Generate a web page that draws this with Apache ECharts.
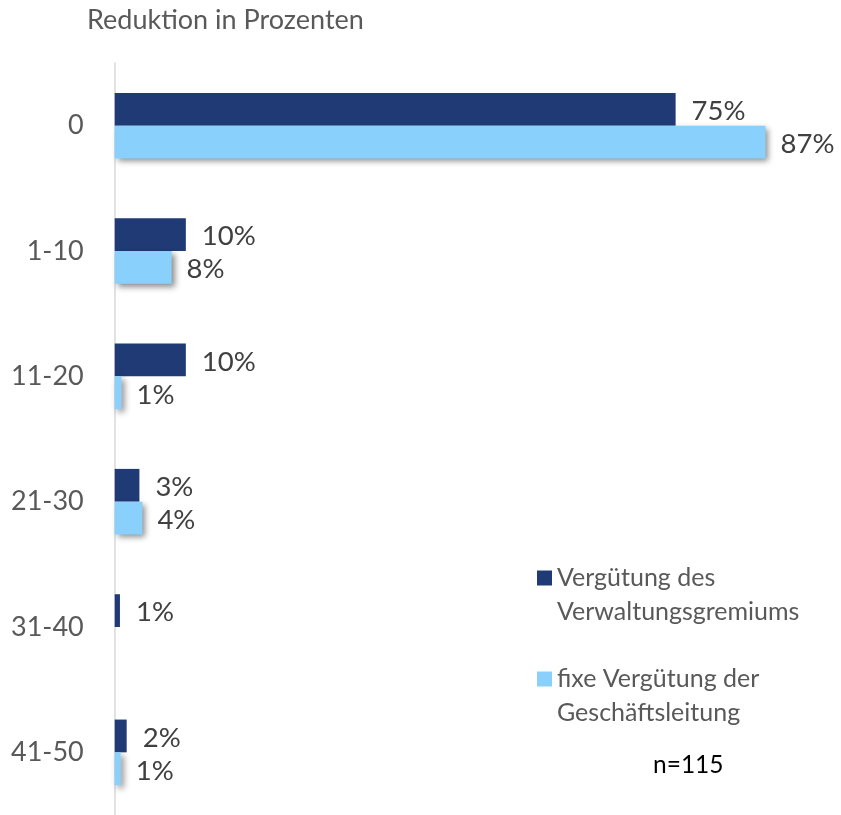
<!DOCTYPE html>
<html><head><meta charset="utf-8">
<script src="https://cdn.jsdelivr.net/npm/echarts@6/dist/echarts.min.js"></script>
<style>html,body{margin:0;padding:0;background:#fff}#c{width:841px;height:815px}</style>
</head><body><div id="c"></div>
<script>
const categories = ['0', '1-10', '11-20', '21-30', '31-40', '41-50'];
const seriesNames = ['Vergütung des Verwaltungsgremiums', 'fixe Vergütung der Geschäftsleitung'];
const legendLines = [['Vergütung des', 'Verwaltungsgremiums'], ['fixe Vergütung der', 'Geschäftsleitung']];
const gremium = [74.9, 9.5, 9.5, 3.3, 0.7, 1.6];
const geschaeftsleitung = [86.9, 7.6, 0.9, 3.7, null, 0.8];
const titleText = 'Reduktion in Prozenten';
const noteText = 'n=115';

const FONT = 'Lato';
const colors = ['#1F3A75', '#89D1FC'];
const chart = echarts.init(document.getElementById('c'));
const legendFmt = name => {
  const i = seriesNames.indexOf(name);
  return '{s' + i + '|}{t|' + legendLines[i][0] + '}\n{p|}{t|' + legendLines[i][1] + '}';
};
const legendText = {
  fontFamily: FONT, fontSize: 25, color: '#595959', lineHeight: 34,
  rich: {
    s0: {width: 15, height: 15, backgroundColor: colors[0]},
    s1: {width: 15, height: 15, backgroundColor: colors[1]},
    p: {width: 15, height: 15},
    t: {fontFamily: FONT, fontSize: 25, color: '#595959', lineHeight: 34, padding: [0, 0, 0, 5]}
  }
};
const valueLabel = {show: true, position: 'right', offset: [0, 2], formatter: p => Math.round(p.value) + '%', fontFamily: FONT, fontSize: 27.5, color: '#404040'};
chart.setOption({
  animation: false,
  title: {text: titleText, left: 82, top: 2, textStyle: {fontFamily: FONT, fontSize: 27, fontWeight: 'normal', color: '#595959'}},
  graphic: [{type: 'text', left: 653, top: 753, style: {text: noteText, font: '24.5px ' + FONT, fill: '#000'}}],
  legend: [
    {data: [seriesNames[0]], left: 527, top: 556, icon: 'none', itemWidth: 0, itemGap: 0, formatter: legendFmt, textStyle: legendText},
    {data: [seriesNames[1]], left: 527, top: 657, icon: 'none', itemWidth: 0, itemGap: 0, formatter: legendFmt, textStyle: legendText}
  ],
  grid: {left: 114.7, top: 63, width: 674, height: 757},
  xAxis: {type: 'value', min: 0, max: 90, show: false},
  yAxis: {type: 'category', data: categories, inverse: true,
    axisLine: {show: true, lineStyle: {color: '#d9d9d9', width: 1.5}},
    axisTick: {show: false},
    axisLabel: {fontFamily: FONT, fontSize: 27, color: '#595959', margin: 31}},
  series: [
    {name: seriesNames[0], type: 'bar', data: gremium, barGap: '0%', barCategoryGap: '47.7%',
      itemStyle: {color: colors[0]},
      label: Object.assign({distance: 16}, valueLabel)},
    {name: seriesNames[1], type: 'bar', data: geschaeftsleitung, barGap: '0%', barCategoryGap: '47.7%',
      itemStyle: {color: colors[1], shadowColor: 'rgba(0,0,0,0.45)', shadowBlur: 6, shadowOffsetX: 3, shadowOffsetY: 3},
      label: Object.assign({distance: 15}, valueLabel)}
  ]
});
</script></body></html>
